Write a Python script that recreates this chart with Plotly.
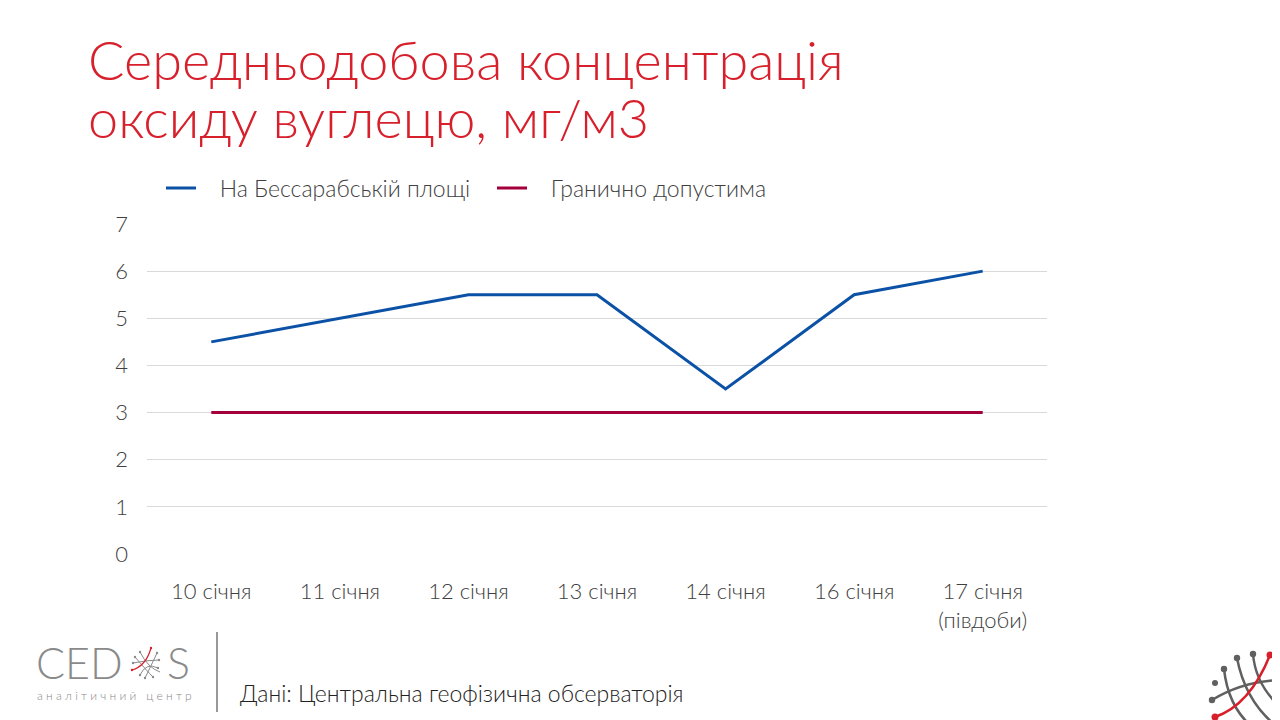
import plotly.graph_objects as go

categories = ["10 січня", "11 січня", "12 січня", "13 січня", "14 січня", "16 січня", "17 січня<br>(півдоби)"]
bessarabska = [4.5, 5.0, 5.5, 5.5, 3.5, 5.5, 6.0]
limit = [3, 3, 3, 3, 3, 3, 3]
y_ticks = [0, 1, 2, 3, 4, 5, 6, 7]
series_names = ["На Бессарабській площі", "Гранично допустима"]

OFF = 8  # page body margin
W, H = 1280, 720
L, R, T, B = 147 - OFF, 1047 - OFF, 224 - OFF, 554 - OFF

def px(x):
    return (x - OFF - L) / (R - L)

def py(y):
    return (B - (y - OFF)) / (B - T)

FONT = "Lato"
TXT = "#404040"
PAD = "\u00a0" * 3
fig = go.Figure()
fig.add_trace(go.Scatter(x=categories, y=bessarabska, mode="lines", name=PAD + series_names[0],
                         line=dict(color="#0b52a6", width=3)))
fig.add_trace(go.Scatter(x=categories, y=limit, mode="lines", name=PAD + series_names[1],
                         line=dict(color="#a3003b", width=3)))

shapes = []
annotations = []
# title
for txt, yy in [("Середньодобова концентрація", 59), ("оксиду вуглецю, мг/м3", 118)]:
    annotations.append(dict(text=txt, x=px(86), y=py(yy), xref="paper", yref="paper",
                            xanchor="left", yanchor="middle", showarrow=False,
                            font=dict(family=FONT, size=54, color="#d7202b", weight=300)))
# source
annotations.append(dict(text="Дані: Центральна геофізична обсерваторія", x=px(238), y=py(693), xref="paper", yref="paper",
                        xanchor="left", yanchor="middle", showarrow=False,
                        font=dict(family=FONT, size=23, color="#222222", weight=300)))
# separator
shapes.append(dict(type="line", xref="paper", yref="paper", x0=px(217), x1=px(217), y0=py(632), y1=py(712),
                   line=dict(color="#333333", width=1)))
# CEDOS logo
annotations.append(dict(text="CED", x=px(34), y=py(662), xref="paper", yref="paper",
                        xanchor="left", yanchor="middle", showarrow=False,
                        font=dict(family=FONT, size=43, color="#8a8a8a", weight=300)))
annotations.append(dict(text="S", x=px(165), y=py(662), xref="paper", yref="paper",
                        xanchor="left", yanchor="middle", showarrow=False,
                        font=dict(family=FONT, size=43, color="#8a8a8a", weight=300)))
annotations.append(dict(text="а н а л і т и ч н и й   ц е н т р", x=px(35), y=py(695), xref="paper", yref="paper",
                        xanchor="left", yanchor="middle", showarrow=False,
                        font=dict(family=FONT, size=12, color="#8a8a8a")))

def ppath(points, cmd="Q"):
    (x0, y0) = points[0]
    return f"M {px(x0)},{py(y0)} {cmd} " + " ".join(f"{px(x)},{py(y)}" for x, y in points[1:])

# small network icon in logo (in place of O)
small_arcs = [
    [(140, 652), (148, 668), (160, 672)],
    [(135, 657), (146, 670), (153, 677)],
    [(133, 663), (148, 660), (159, 660)],
    [(157, 653), (150, 668), (145, 678)],
    [(140, 675), (146, 662), (158, 668)],
]
for pts in small_arcs:
    shapes.append(dict(type="path", xref="paper", yref="paper", path=ppath(pts),
                       line=dict(color="#8a8a8a", width=1)))
shapes.append(dict(type="path", xref="paper", yref="paper", path=ppath([(151, 648), (146, 666), (132, 670)]),
                   line=dict(color="#d7202b", width=1.2)))
for (cx, cy, c) in [(151, 648, "#d7202b"), (132, 670, "#d7202b"), (140, 652, "#8a8a8a"), (135, 657, "#8a8a8a"),
                    (133, 663, "#8a8a8a"), (157, 653, "#8a8a8a"), (159, 660, "#8a8a8a"), (158, 668, "#8a8a8a"),
                    (153, 677, "#8a8a8a"), (145, 678, "#8a8a8a"), (140, 675, "#8a8a8a")]:
    shapes.append(dict(type="circle", xref="paper", yref="paper", x0=px(cx - 1.2), x1=px(cx + 1.2),
                       y0=py(cy - 1.2), y1=py(cy + 1.2), fillcolor=c, line=dict(width=0)))

# bottom-right decorative network
gray_arcs = [
    [(1253, 654), (1256, 690), (1290, 715)],
    [(1237, 658), (1245, 700), (1275, 725)],
    [(1224, 669), (1228, 705), (1250, 725)],
    [(1212, 700), (1245, 680), (1285, 680)],
]
for pts in gray_arcs:
    shapes.append(dict(type="path", xref="paper", yref="paper", path=ppath(pts),
                       line=dict(color="#606060", width=2.5)))
shapes.append(dict(type="path", xref="paper", yref="paper", path=ppath([(1270, 655), (1250, 705), (1215, 717)]),
                   line=dict(color="#d7202b", width=2.5)))
for (cx, cy, c, r) in [(1270, 655, "#d7202b", 3.5), (1215, 717, "#d7202b", 3.5), (1253, 654, "#606060", 3.2),
                       (1237, 658, "#606060", 3.2), (1224, 669, "#606060", 3.2), (1215, 683, "#606060", 3),
                       (1212, 700, "#606060", 3.2)]:
    shapes.append(dict(type="circle", xref="paper", yref="paper", x0=px(cx - r), x1=px(cx + r),
                       y0=py(cy - r), y1=py(cy + r), fillcolor=c, line=dict(width=0)))

fig.update_layout(
    width=W, height=H,
    margin=dict(l=L, r=W - R, t=T, b=H - B, autoexpand=False),
    paper_bgcolor="white", plot_bgcolor="white",
    font=dict(family=FONT, size=22, color=TXT, weight=300),
    showlegend=True,
    legend=dict(orientation="h", x=px(161), y=py(188), xanchor="left", yanchor="middle",
                font=dict(family=FONT, size=23, color=TXT, weight=300),
                entrywidth=286, entrywidthmode="pixels", bgcolor="rgba(0,0,0,0)"),
    xaxis=dict(type="category", range=[-0.5, 6.5], showgrid=False, zeroline=False, showline=False,
               ticks="", tickfont=dict(size=22, color=TXT), ticklabelstandoff=22),
    yaxis=dict(range=[0, 7], tickvals=y_ticks, showgrid=True, gridcolor="#d9d9d9", gridwidth=1,
               zeroline=False, showline=False, ticks="", tickfont=dict(size=22, color=TXT),
               ticklabelstandoff=18),
    shapes=shapes, annotations=annotations,
)
fig.write_html("out.html")
